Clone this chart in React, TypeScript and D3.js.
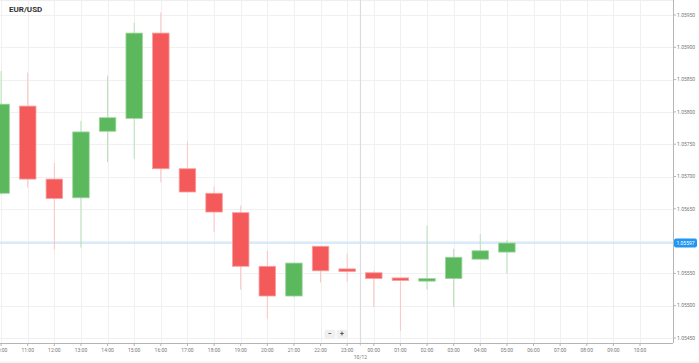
import React from "react";
import * as d3 from "d3";

const hourLabels = ["10:00","11:00","12:00","13:00","14:00","15:00","16:00","17:00","18:00","19:00","20:00","21:00","22:00","23:00","00:00","01:00","02:00","03:00","04:00","05:00","06:00","07:00","08:00","09:00","10:00"];
const opens  = [1.05674,1.05809,1.05696,1.05667,1.05770,1.05790,1.05922,1.05712,1.05674,1.05644,1.05561,1.05515,1.05592,1.05557,1.05551,1.05543,1.05538,1.05542,1.05572,1.05583];
const highs  = [1.05863,1.05861,1.05721,1.05786,1.05856,1.05938,1.05954,1.05754,1.05684,1.05655,1.05585,1.05566,1.05592,1.05581,1.05554,1.05543,1.05624,1.05588,1.05611,1.05602];
const lows   = [1.05672,1.05683,1.05587,1.05590,1.05722,1.05727,1.05691,1.05676,1.05614,1.05525,1.05480,1.05513,1.05536,1.05537,1.05498,1.05461,1.05525,1.05498,1.05572,1.05550];
const closes = [1.05812,1.05696,1.05666,1.05769,1.05791,1.05922,1.05712,1.05676,1.05645,1.05561,1.05515,1.05566,1.05554,1.05553,1.05542,1.05539,1.05542,1.05575,1.05585,1.05597];
const yTicks = [1.0545,1.055,1.0555,1.056,1.0565,1.057,1.0575,1.058,1.0585,1.059,1.0595];
const currentPrice = 1.05597;
const symbol = "EUR/USD";
const dayLabel = "10/12";

export default function App() {
  const W = 699, H = 363;
  const axisX = 673, axisY = 343;
  const x = d3.scaleLinear().domain([0, 24]).range([1.1, 640]);
  const y = d3.scaleLinear().domain([1.0545, 1.0595]).range([338, 15]);
  const step = x(1) - x(0);
  const bw = step * 0.62;
  const green = "#5cb85c", red = "#f55a5a";
  const greenW = "#b9e0b9", redW = "#fcc5c5";
  const fmt = d3.format(".5f");
  const font = "Roboto, 'Noto Sans', sans-serif";
  const crossX = x(13.5);

  return (
    <svg width={W} height={H} style={{ position: "absolute", left: 0, top: 0, background: "#fff" }} fontFamily={font}>
      <rect x={0} y={0} width={W} height={H} fill="#fff" />
      {/* grid */}
      <line x1={0} x2={axisX} y1={0.5} y2={0.5} stroke="#eeeeee" />
      {yTicks.map((t, i) => (
        <line key={"gy" + i} x1={0} x2={axisX} y1={Math.round(y(t)) + 0.5} y2={Math.round(y(t)) + 0.5} stroke="#f0f0f0" />
      ))}
      {hourLabels.map((_, i) => (
        <line key={"gx" + i} x1={Math.round(x(i)) + 0.5} x2={Math.round(x(i)) + 0.5} y1={0} y2={axisY} stroke="#f0f0f0" />
      ))}
      {/* crosshair day line */}
      <line x1={crossX} x2={crossX} y1={0} y2={axisY + 3} stroke="#dcdcdc" strokeWidth={1.2} />
      {/* current price line */}
      <line x1={0} x2={axisX} y1={y(currentPrice)} y2={y(currentPrice)} stroke="#c9e4fb" strokeWidth={1.5} />
      {/* candles */}
      {opens.map((o, i) => {
        const c = closes[i];
        const up = c >= o;
        const cx = x(i);
        const top = y(Math.max(o, c));
        const bot = y(Math.min(o, c));
        const h = Math.max(bot - top, 1.5);
        return (
          <g key={"c" + i}>
            <line x1={cx} x2={cx} y1={y(highs[i])} y2={y(lows[i])} stroke={up ? greenW : redW} strokeWidth={1} />
            <rect x={cx - bw / 2} y={top} width={bw} height={h} fill={up ? green : red} stroke={up ? "#9fd69f" : "#f9a0a0"} strokeWidth={0.8} />
          </g>
        );
      })}
      {/* axes */}
      <line x1={axisX + 0.5} x2={axisX + 0.5} y1={0} y2={axisY} stroke="#b5b5b5" />
      <line x1={0} x2={axisX} y1={axisY + 0.5} y2={axisY + 0.5} stroke="#b5b5b5" />
      {yTicks.map((t, i) => (
        <g key={"ty" + i}>
          <line x1={axisX} x2={axisX + 3} y1={y(t)} y2={y(t)} stroke="#b5b5b5" />
          {Math.abs(t - 1.056) > 1e-6 && (
            <text x={axisX + 4} y={y(t)} dy="0.35em" fontSize={5} fill="#777">{fmt(t)}</text>
          )}
        </g>
      ))}
      {hourLabels.map((l, i) => (
        <g key={"tx" + i}>
          <line x1={x(i)} x2={x(i)} y1={axisY} y2={axisY + 3} stroke="#b5b5b5" />
          <text x={x(i)} y={350} textAnchor="middle" dy="0.35em" fontSize={5} fill="#777">{l}</text>
        </g>
      ))}
      <text x={crossX} y={357} textAnchor="middle" dy="0.35em" fontSize={5} fill="#777">{dayLabel}</text>
      {/* current price label */}
      <rect x={axisX + 1} y={y(currentPrice) - 4.5} width={23} height={9} rx={2} fill="#2196f3" />
      <text x={axisX + 12.5} y={y(currentPrice)} dy="0.35em" textAnchor="middle" fontSize={5} fill="#fff">{fmt(currentPrice)}</text>
      {/* title */}
      <text x={9} y={12} fontSize={8} fontWeight="bold" fill="#333">{symbol}</text>
      {/* zoom controls */}
      <rect x={325} y={330.5} width={10} height={7} rx={1} fill="#f1f1f1" stroke="#e3e3e3" strokeWidth={0.5} />
      <rect x={337} y={330.5} width={10} height={7} rx={1} fill="#f1f1f1" stroke="#e3e3e3" strokeWidth={0.5} />
      <text x={330} y={334} textAnchor="middle" dy="0.35em" fontSize={7} fontWeight="bold" fill="#555">−</text>
      <text x={342} y={334} textAnchor="middle" dy="0.35em" fontSize={7} fontWeight="bold" fill="#555">+</text>
      <line x1={0} x2={W} y1={362} y2={362} stroke="#eeeeee" />
    </svg>
  );
}
